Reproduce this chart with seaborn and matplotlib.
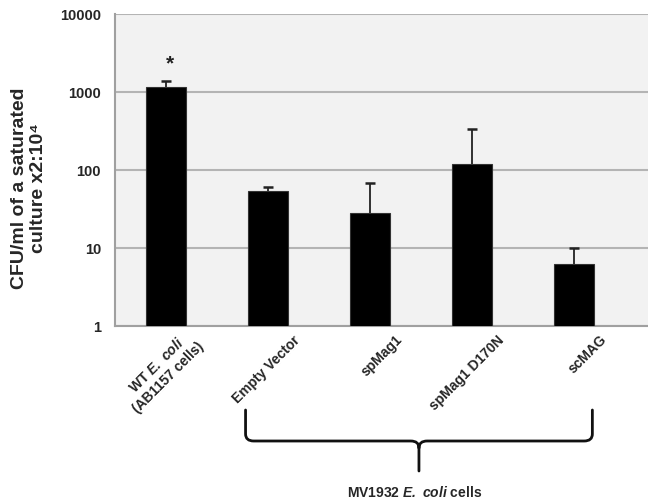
import numpy as np
import pandas as pd
import matplotlib
matplotlib.use("Agg")
import matplotlib.pyplot as plt
import matplotlib.transforms as mtransforms
from matplotlib.path import Path
from matplotlib.patches import PathPatch
import seaborn as sns

# ---- data ----
categories = ["WT $\\mathbfit{E.\\ coli}$\n(AB1157 cells)", "Empty Vector", "spMag1",
              "spMag1 D170N", "scMAG"]
values = [1150, 54, 28, 119, 6.3]
err_upper = [230, 7, 40, 215, 3.7]
y_ticks = [1, 10, 100, 1000, 10000]
y_tick_labels = ["1", "10", "100", "1000", "10000"]
ylabel = "CFU/ml of a saturated\nculture x2:10\u2074"
group_label = "MV1932 $\\mathbfit{E.\\ coli}$ cells"

sns.set_style("white")
plt.rcParams["font.family"] = ["Liberation Sans", "DejaVu Sans"]
plt.rcParams["font.weight"] = "bold"
plt.rcParams["mathtext.fontset"] = "custom"
plt.rcParams["mathtext.rm"] = "Liberation Sans:bold"
plt.rcParams["mathtext.bf"] = "Liberation Sans:bold"
plt.rcParams["mathtext.it"] = "Liberation Sans:italic:bold"
plt.rcParams["mathtext.bfit"] = "Liberation Sans:italic:bold"

W, H = 648, 502
fig = plt.figure(figsize=(W / 100, H / 100), dpi=100)
ax = fig.add_axes([115 / W, 1 - 327 / H, (648 - 115) / W, (327 - 15) / H])

df = pd.DataFrame({"cat": categories, "val": values})
sns.barplot(data=df, x="cat", y="val", color="black", width=0.4, ax=ax,
            errorbar=None, edgecolor="#333333", linewidth=0.8, zorder=3)
eb = ax.errorbar(np.arange(len(values)), values,
                 yerr=[np.zeros(len(values)), err_upper], fmt="none",
                 ecolor="#222222", elinewidth=1.3, capsize=3.5, capthick=1.8,
                 zorder=4)
# keep only the upper caps
caps = eb[1]
if len(caps) == 2:
    caps[0].set_visible(False)

ax.set_yscale("log")
ax.set_ylim(1, 10000)
ax.set_xlim(-0.5, (648 - 166) / 102)
ax.set_facecolor("#f2f2f2")
ax.set_yticks(y_ticks)
ax.set_yticklabels(y_tick_labels, fontsize=10.5, fontweight="bold")
ax.yaxis.grid(True, which="major", color="#b4b4b4", linewidth=1.5, zorder=0)
ax.set_axisbelow(True)
ax.tick_params(axis="y", which="major", direction="out", length=4, width=1,
               color="#999999", pad=6)
ax.tick_params(axis="y", which="minor", direction="out", length=2, width=0.8,
               color="#aaaaaa")
ax.tick_params(axis="x", length=0)
for s in ["top", "right"]:
    ax.spines[s].set_visible(False)
for s in ["left", "bottom"]:
    ax.spines[s].set_color("#a0a0a0")
    ax.spines[s].set_linewidth(1.5)
ax.set_xlabel("")
ax.set_ylabel("")

ax.set_xticks(range(len(categories)))
ax.set_xticklabels(categories, rotation=45, ha="right", va="center",
                   rotation_mode="anchor", fontsize=10, fontweight="bold",
                   multialignment="center")
offset = mtransforms.ScaledTranslation(0.30, -0.06, fig.dpi_scale_trans)
for lab in ax.get_xticklabels():
    lab.set_transform(lab.get_transform() + offset)

fig.text(29 / W, 1 - 188 / H, ylabel, rotation=90, ha="center", va="center",
         fontsize=14, fontweight="bold", multialignment="center",
         linespacing=1.1)

# asterisk above WT bar
ax.annotate("*", xy=(0, values[0] + err_upper[0]), xytext=(3, 6),
            textcoords="offset points", ha="center", va="bottom",
            fontsize=15, fontweight="bold", color="#222222")

# brace under MV1932 group
trans = mtransforms.blended_transform_factory(ax.transData, fig.transFigure)
xl, xr = 0.78, 4.18
xc = (xl + xr) / 2
y_top, y_mid, y_bot = 1 - 411 / H, 1 - 442 / H, 1 - 472 / H
dx = 0.08
dy = 7 / H
verts = [(xl, y_top), (xl, y_mid + dy), (xl, y_mid), (xl + dx, y_mid),
         (xc - dx, y_mid), (xc, y_mid), (xc, y_mid - dy), (xc, y_bot),
         (xc, y_mid - dy), (xc, y_mid), (xc + dx, y_mid),
         (xr - dx, y_mid), (xr, y_mid), (xr, y_mid + dy), (xr, y_top)]
codes = [Path.MOVETO, Path.LINETO, Path.CURVE3, Path.CURVE3,
         Path.LINETO, Path.CURVE3, Path.CURVE3, Path.LINETO,
         Path.MOVETO, Path.CURVE3, Path.CURVE3,
         Path.LINETO, Path.CURVE3, Path.CURVE3, Path.LINETO]
brace = PathPatch(Path(verts, codes), transform=trans, fill=False,
                  edgecolor="#111111", linewidth=2.0, clip_on=False,
                  capstyle="round", joinstyle="round")
fig.add_artist(brace)

fig.text(415 / W, 1 - 493 / H, group_label, ha="center", va="center",
         fontsize=10, fontweight="bold")

fig.savefig("out.png", dpi=100)
